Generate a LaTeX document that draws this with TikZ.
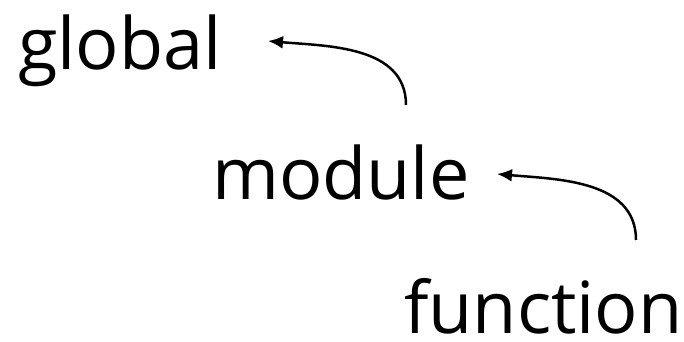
\documentclass[tikz,border=0pt]{standalone}
\usepackage{fontspec}
\setmainfont{Open Sans}
\usetikzlibrary{arrows.meta}
\begin{document}
\begin{tikzpicture}[x=1pt,y=1pt,
  scopename/.style={anchor=base west, inner sep=0pt, font=\fontsize{72}{86}\selectfont},
  lookup/.style={line width=2.5pt, -{Latex[length=15pt,width=13pt]}}]
  \useasboundingbox (0,0) rectangle (684,342);
  \node[scopename] (global) at (18,272) {global};
  \node[scopename] (module) at (212,142) {module};
  \node[scopename] (function) at (404,9) {function};
  \coordinate (g-in) at (268,301);
  \coordinate (m-out) at (406,237);
  \coordinate (m-in) at (497,168);
  \coordinate (f-out) at (636,102);
  \draw[lookup] (m-out) to[out=90,in=-5] (g-in);
  \draw[lookup] (f-out) to[out=90,in=-5] (m-in);
\end{tikzpicture}
\end{document}
